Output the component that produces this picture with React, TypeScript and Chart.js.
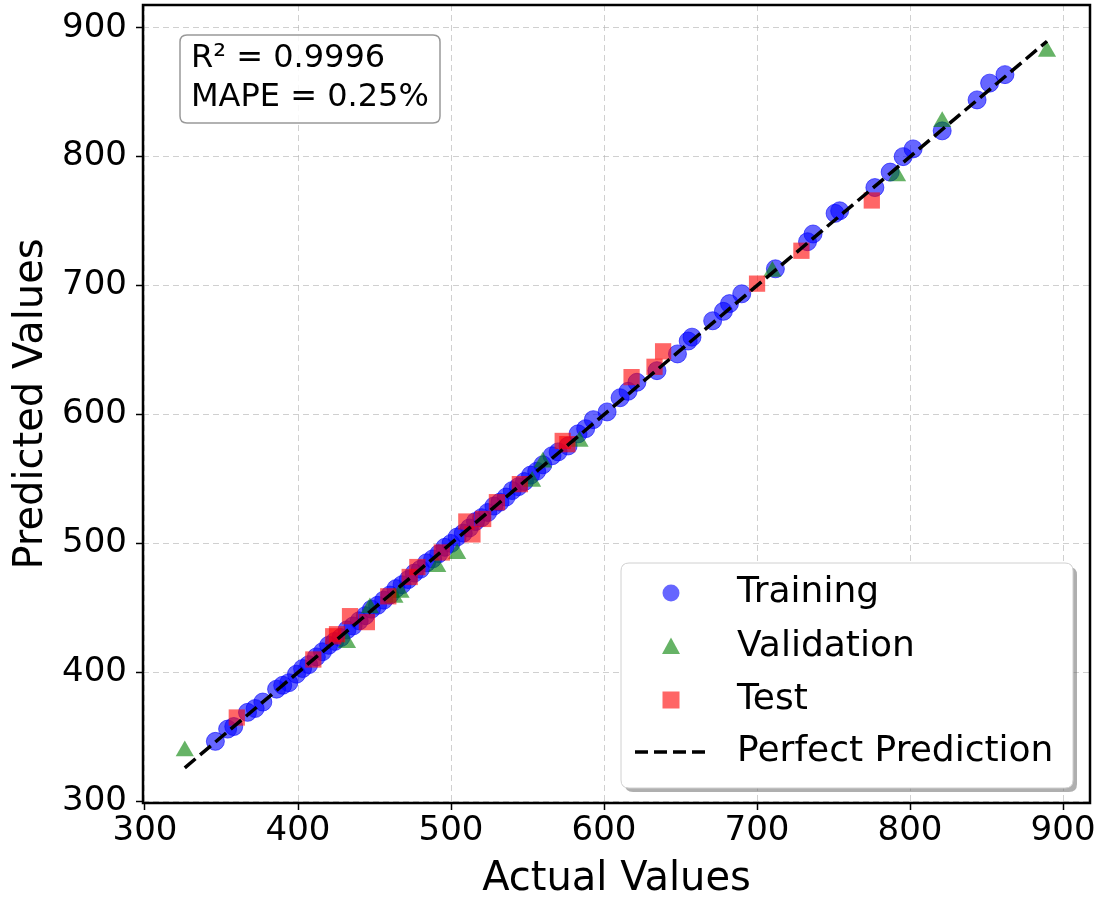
import React, { useEffect, useRef } from "react";
import { Chart, registerables } from "chart.js";

Chart.register(...registerables);

const trainActual = [346, 354, 358, 367, 372, 377, 386, 390, 394, 399, 403, 407, 412, 416, 420, 424, 428, 432, 436, 440, 444, 448, 452, 456, 460, 464, 468, 472, 476, 480, 484, 488, 492, 496, 500, 504, 508, 512, 516, 520, 524, 528, 532, 536, 540, 544, 548, 552, 556, 560, 566, 570, 576.5, 583, 588, 593, 602, 610.5, 615.7, 621.5, 634.6, 648, 655, 657.5, 671, 678, 682, 690, 712, 733, 736.6, 751, 754, 777, 787, 795.5, 802, 821, 843.8, 852, 862];
const trainPredicted = [346.5, 356, 358, 369, 372, 377, 387, 390, 392, 398.6, 403, 406, 412, 416, 421, 424, 427, 433, 436, 440, 444, 449, 452, 456, 460, 465, 468, 472, 477, 480, 485, 488, 492, 497, 500, 505, 508, 512, 517, 520, 524, 529, 532, 536, 541, 544, 548, 553, 556, 561, 568, 571, 575.6, 585, 589, 596, 602, 613, 618, 625, 634, 647, 657, 660, 672.7, 680, 686, 693.6, 713, 734, 740, 756, 758, 776, 788, 800, 806, 820, 844, 857, 863.6];

const valActual = [326, 432, 447, 463, 467, 491, 504, 553, 560, 584, 710, 791.5, 821, 889.5];
const valPredicted = [339, 423, 450, 458, 462, 482, 492, 548, 563, 579, 711, 785, 827, 881.5];

const testActual = [360, 410, 423, 425.5, 434, 445, 459, 473, 478, 494, 510, 514, 521, 530, 545, 573, 576, 618, 633, 638.6, 700, 729, 775];
const testPredicted = [365, 410, 428, 429.6, 443.6, 439, 459, 474, 481.7, 493, 517, 507, 519, 532, 546, 579.5, 577, 629, 637, 649, 701.5, 727, 766];

const tickValues = [300, 400, 500, 600, 700, 800, 900];
const axisMin = 298.7;
const axisMax = 917.6;

const seriesNames = ["Training", "Validation", "Test", "Perfect Prediction"];
const statLines = ["R\u00b2 = 0.9996", "MAPE = 0.25%"];

const FONT = "'DejaVu Sans', 'Liberation Sans', sans-serif";
const BLUE = "rgba(0,0,255,0.6)";
const GREEN = "rgba(0,128,0,0.6)";
const RED = "rgba(255,0,0,0.6)";

function toPoints(xs: number[], ys: number[]) {
  return xs.map((x, i) => ({ x, y: ys[i] }));
}

function roundRect(ctx: CanvasRenderingContext2D, x: number, y: number, w: number, h: number, r: number) {
  ctx.beginPath();
  ctx.moveTo(x + r, y);
  ctx.lineTo(x + w - r, y);
  ctx.quadraticCurveTo(x + w, y, x + w, y + r);
  ctx.lineTo(x + w, y + h - r);
  ctx.quadraticCurveTo(x + w, y + h, x + w - r, y + h);
  ctx.lineTo(x + r, y + h);
  ctx.quadraticCurveTo(x, y + h, x, y + h - r);
  ctx.lineTo(x, y + r);
  ctx.quadraticCurveTo(x, y, x + r, y);
  ctx.closePath();
}

const overlayPlugin = {
  id: "overlay",
  afterDraw(chart: any) {
    const ctx: CanvasRenderingContext2D = chart.ctx;
    const a = chart.chartArea;
    ctx.save();
    ctx.strokeStyle = "#000";
    ctx.lineWidth = 2.5;
    ctx.setLineDash([]);
    ctx.strokeRect(a.left, a.top, a.right - a.left, a.bottom - a.top);

    roundRect(ctx, 180, 35, 260, 88, 7);
    ctx.fillStyle = "rgba(255,255,255,0.85)";
    ctx.fill();
    ctx.strokeStyle = "#999";
    ctx.lineWidth = 1.5;
    ctx.stroke();
    ctx.fillStyle = "#000";
    ctx.font = `32px ${FONT}`;
    ctx.textBaseline = "middle";
    ctx.textAlign = "left";
    ctx.fillText(statLines[0], 191, 59);
    ctx.fillText(statLines[1], 191, 98);

    const lx = 621, ly = 563, lw = 452, lh = 225;
    roundRect(ctx, lx + 4, ly + 4, lw, lh, 8);
    ctx.fillStyle = "rgba(110,110,110,0.55)";
    ctx.fill();
    roundRect(ctx, lx, ly, lw, lh, 8);
    ctx.fillStyle = "#fff";
    ctx.fill();
    ctx.strokeStyle = "#d0d0d0";
    ctx.lineWidth = 1;
    ctx.stroke();

    const rows = [593, 647, 700, 752];
    const mx = 671;
    ctx.fillStyle = BLUE;
    ctx.beginPath();
    ctx.arc(mx, rows[0], 8.5, 0, Math.PI * 2);
    ctx.fill();
    ctx.fillStyle = GREEN;
    ctx.beginPath();
    ctx.moveTo(mx, rows[1] - 9.5);
    ctx.lineTo(mx + 9, rows[1] + 7);
    ctx.lineTo(mx - 9, rows[1] + 7);
    ctx.closePath();
    ctx.fill();
    ctx.fillStyle = RED;
    ctx.fillRect(mx - 8.5, rows[2] - 8.5, 17, 17);
    ctx.strokeStyle = "#000";
    ctx.lineWidth = 3.5;
    ctx.setLineDash([13, 6]);
    ctx.beginPath();
    ctx.moveTo(635, rows[3]);
    ctx.lineTo(709, rows[3]);
    ctx.stroke();
    ctx.setLineDash([]);

    ctx.fillStyle = "#000";
    ctx.font = `36px ${FONT}`;
    ctx.textBaseline = "middle";
    seriesNames.forEach((n, i) => ctx.fillText(n, 737, rows[i]));
    ctx.restore();
  },
};

export default function App() {
  const ref = useRef<HTMLCanvasElement | null>(null);
  useEffect(() => {
    document.body.style.margin = "0";
    if (!ref.current) return;
    const allActual = [...trainActual, ...valActual, ...testActual];
    const lo = Math.min(...allActual);
    const hi = Math.max(...allActual);

    const axisCommon = (title: string, isX: boolean) => ({
      type: "linear" as const,
      min: axisMin,
      max: axisMax,
      afterBuildTicks: (scale: any) => {
        scale.ticks = tickValues.map((v) => ({ value: v }));
      },
      afterFit: (scale: any) => {
        if (isX) {
          scale.height = 95;
          scale.paddingLeft = 0;
          scale.paddingRight = 0;
        } else {
          scale.width = 143;
          scale.paddingTop = 0;
          scale.paddingBottom = 0;
        }
      },
      grid: {
        color: "rgba(176,176,176,0.6)",
        lineWidth: 1,
        tickColor: "#000",
        tickLength: 7,
        tickWidth: 1.5,
      },
      border: { display: false, dash: [6, 4] },
      ticks: {
        color: "#000",
        font: { family: FONT, size: 34 },
        padding: isX ? 1 : 9,
        maxRotation: 0,
        autoSkip: false,
      },
      title: {
        display: true,
        text: title,
        color: "#000",
        font: { family: FONT, size: 40, lineHeight: 0.9 },
        padding: isX ? { top: 0, bottom: 0 } : { top: 14, bottom: 0 },
      },
    });

    const chart = new Chart(ref.current, {
      type: "scatter",
      data: {
        datasets: [
          {
            type: "line",
            label: seriesNames[3],
            data: [{ x: lo, y: lo }, { x: hi, y: hi }],
            borderColor: "#000",
            borderWidth: 3.5,
            borderDash: [14, 6],
            pointRadius: 0,
            fill: false,
            order: 0,
          } as any,
          {
            label: seriesNames[2],
            data: toPoints(testActual, testPredicted),
            backgroundColor: RED,
            borderColor: RED,
            borderWidth: 0,
            pointStyle: "rect",
            pointRadius: 11.5,
            order: 1,
          },
          {
            label: seriesNames[1],
            data: toPoints(valActual, valPredicted),
            backgroundColor: GREEN,
            borderColor: GREEN,
            borderWidth: 0,
            pointStyle: "triangle",
            pointRadius: 10.5,
            order: 2,
          },
          {
            label: seriesNames[0],
            data: toPoints(trainActual, trainPredicted),
            backgroundColor: BLUE,
            borderColor: BLUE,
            borderWidth: 1,
            pointStyle: "circle",
            pointRadius: 9,
            order: 3,
          },
        ],
      },
      options: {
        animation: false,
        responsive: false,
        devicePixelRatio: 1,
        layout: { autoPadding: false, padding: { left: 0, top: 5, right: 10, bottom: 0 } },
        plugins: {
          legend: { display: false },
          tooltip: { enabled: false },
        },
        scales: {
          x: axisCommon("Actual Values", true),
          y: axisCommon("Predicted Values", false),
        },
      },
      plugins: [overlayPlugin],
    });
    return () => chart.destroy();
  }, []);

  return (
    <div style={{ width: 1100, height: 898, background: "#fff" }}>
      <canvas ref={ref} width={1100} height={898} />
    </div>
  );
}
